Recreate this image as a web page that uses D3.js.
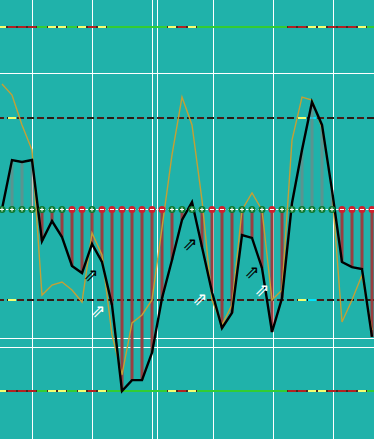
<!DOCTYPE html>
<html>
<head>
<meta charset="utf-8">
<script src="https://cdn.jsdelivr.net/npm/d3@7"></script>
<style>
  body { margin: 0; background: #20b2aa; }
  svg { display: block; }
</style>
</head>
<body>
<script>
// one value per bar (38 bars)
var mainValues = [0, 26.9, 25.8, 26.9, -17.6, -6.6, -15.4, -31.3, -35.2, -19.2,
  -29.1, -52.7, -100, -94, -94, -79, -49, -28, -6, 3.8,
  -20.9, -45.6, -65.4, -57.1, -14.3, -15.9, -32.4, -67.6, -49, 3.3,
  32.4, 58.8, 46.2, 10.4, -29.1, -31.9, -33, -70.3];
var signalValues = [68.7, 62.6, 46.2, 32.4, -47.3, -41.8, -40.1, -44.5, -51.1, -13.2,
  -25.3, -69.2, -91.2, -62.6, -58.2, -50, -10.4, 29.7, 61.5, 46.2,
  4.9, -50, -63.7, -52.7, -0.5, 8.8, -0.5, -50, -44.5, 37.9,
  61.5, 59.9, 44.5, 10.4, -62.1, -50, -36.3, -66.5];
// +1 = green "+" dot, -1 = red "-" dot on the zero line
var markerSigns = [1, 1, 1, 1, 1, 1, 1, -1, -1, 1,
  -1, -1, -1, -1, -1, -1, -1, 1, 1, 1,
  1, -1, -1, 1, 1, 1, 1, -1, 1, 1,
  1, 1, 1, 1, -1, -1, -1, -1];
// state of the +/-100 level lines per bar: g = green, y = yellow, r = red
var outerStates = ["y", "r", "r", "r", "g", "y", "y", "g", "y", "r",
  "y", "g", "g", "g", "g", "g", "g", "y", "r", "y",
  "g", "g", "g", "g", "g", "g", "g", "g", "g", "r",
  "r", "y", "y", "r", "r", "r", "y", "g"];
// highlighted bars on the +/-50 level lines
var innerHighlights = [{ i: 1, c: "y" }, { i: 30, c: "y" }, { i: 31, c: "c" }];

var outerLevels = [100, -100];
var innerLevels = [50, -50];
var gridRows = [75, -71, -76];
var gridCols = [3, 9, 15, 15.5, 21.1, 27.1, 33.1];

var blackArrows = [{ i: 8.9, v: -36 }, { i: 18.8, v: -18.7 }, { i: 25, v: -34.6 }];
var whiteArrows = [{ i: 9.6, v: -56 }, { i: 19.8, v: -49 }, { i: 26, v: -44.5 }];

var width = 374, height = 439;
var colors = { g: "#32cd32", y: "#f4ff70", r: "#b22222", c: "#00e5ff" };

var svg = d3.select("body").append("svg")
  .attr("width", width)
  .attr("height", height);

svg.append("rect").attr("width", width).attr("height", height).attr("fill", "#20b2aa");

var x = d3.scaleLinear().domain([0, mainValues.length - 1]).range([2, 372]);
var y = d3.scaleLinear().domain([-100, 100]).range([391, 27]);
var idx = d3.range(mainValues.length);

// grid
svg.append("g").selectAll("line").data(gridCols).enter().append("line")
  .attr("x1", function (d) { return Math.round(x(d)) + 0.5; })
  .attr("x2", function (d) { return Math.round(x(d)) + 0.5; })
  .attr("y1", 0).attr("y2", height)
  .attr("stroke", "#fff").attr("stroke-width", 1);
svg.append("g").selectAll("line").data(gridRows).enter().append("line")
  .attr("x1", 0).attr("x2", width)
  .attr("y1", function (d) { return Math.round(y(d)) + 0.5; })
  .attr("y2", function (d) { return Math.round(y(d)) + 0.5; })
  .attr("stroke", "#fff").attr("stroke-width", 1);

// +/-100 coloured level lines
outerLevels.forEach(function (lv) {
  var g = svg.append("g");
  var yy = Math.round(y(lv));
  g.selectAll("rect.base").data(idx.filter(function (i) { return outerStates[i] !== "g"; }))
    .enter().append("rect")
    .attr("x", function (i) { return x(i) - 5; })
    .attr("y", yy - 1).attr("width", 10).attr("height", 2)
    .attr("fill", "#4a2a20");
  g.selectAll("rect.seg").data(idx).enter().append("rect")
    .attr("x", function (i) { return outerStates[i] === "g" ? x(i) - 5 : x(i) - 4; })
    .attr("y", yy - 1)
    .attr("width", function (i) { return outerStates[i] === "g" ? 10 : 8; })
    .attr("height", 2)
    .attr("fill", function (i) { return colors[outerStates[i]]; });
});

// +/-50 dark dashed level lines
innerLevels.forEach(function (lv) {
  var g = svg.append("g");
  var yy = Math.round(y(lv));
  g.selectAll("rect").data(idx).enter().append("rect")
    .attr("x", function (i) { return x(i) - 5; })
    .attr("y", yy - 1).attr("width", 7).attr("height", 2)
    .attr("fill", function (i) { return i % 2 ? "#2a1c16" : "#4a1e1a"; });
  g.selectAll("rect.hl").data(innerHighlights).enter().append("rect")
    .attr("x", function (d) { return x(d.i) - 4; })
    .attr("y", yy - 1).attr("width", 8).attr("height", 2)
    .attr("fill", function (d) { return colors[d.c]; });
});

// zero line
svg.append("line")
  .attr("x1", 0).attr("x2", width)
  .attr("y1", Math.round(y(0)) + 0.5).attr("y2", Math.round(y(0)) + 0.5)
  .attr("stroke", "#fff").attr("stroke-width", 1)
  .attr("stroke-dasharray", "4,2");

// histogram bars
svg.append("g").selectAll("rect").data(idx).enter().append("rect")
  .attr("x", function (i) { return x(i) - 1.5; })
  .attr("y", function (i) { return Math.min(y(0), y(mainValues[i])); })
  .attr("width", 3)
  .attr("height", function (i) { return Math.abs(y(mainValues[i]) - y(0)); })
  .attr("fill", function (i) { return mainValues[i] < 0 ? "#a0383a" : "#a07070"; })
  .attr("opacity", function (i) { return mainValues[i] < 0 ? 0.95 : 0.45; });

// signal line
var line = d3.line()
  .x(function (d, i) { return x(i); })
  .y(function (d) { return y(d); });
svg.append("path").datum(signalValues)
  .attr("d", line)
  .attr("fill", "none")
  .attr("stroke", "#c4a035")
  .attr("stroke-width", 1.4);

// main line
svg.append("path").datum(mainValues)
  .attr("d", line)
  .attr("fill", "none")
  .attr("stroke", "#000")
  .attr("stroke-width", 2.4)
  .attr("stroke-linejoin", "miter");

// zero line markers
var marks = svg.append("g").selectAll("g").data(idx).enter().append("g")
  .attr("transform", function (i) { return "translate(" + x(i) + "," + (Math.round(y(0)) + 0.5) + ")"; });
marks.append("circle")
  .attr("r", 3.5)
  .attr("fill", function (i) { return markerSigns[i] > 0 ? "#0e7a2e" : "#d0202c"; });
marks.append("line")
  .attr("x1", -2).attr("x2", 2).attr("y1", 0).attr("y2", 0)
  .attr("stroke", "#fff").attr("stroke-width", 1);
marks.filter(function (i) { return markerSigns[i] > 0; }).append("line")
  .attr("x1", 0).attr("x2", 0).attr("y1", -2).attr("y2", 2)
  .attr("stroke", "#fff").attr("stroke-width", 1);

// arrows
function arrows(data, color) {
  svg.append("g").selectAll("text").data(data).enter().append("text")
    .attr("x", function (d) { return x(d.i); })
    .attr("y", function (d) { return y(d.v); })
    .attr("text-anchor", "middle")
    .attr("dominant-baseline", "central")
    .attr("font-family", "DejaVu Sans")
    .attr("font-size", 18)
    .attr("fill", color)
    .text("\u21D7");
}
arrows(blackArrows, "#000");
arrows(whiteArrows, "#fff");
</script>
</body>
</html>
